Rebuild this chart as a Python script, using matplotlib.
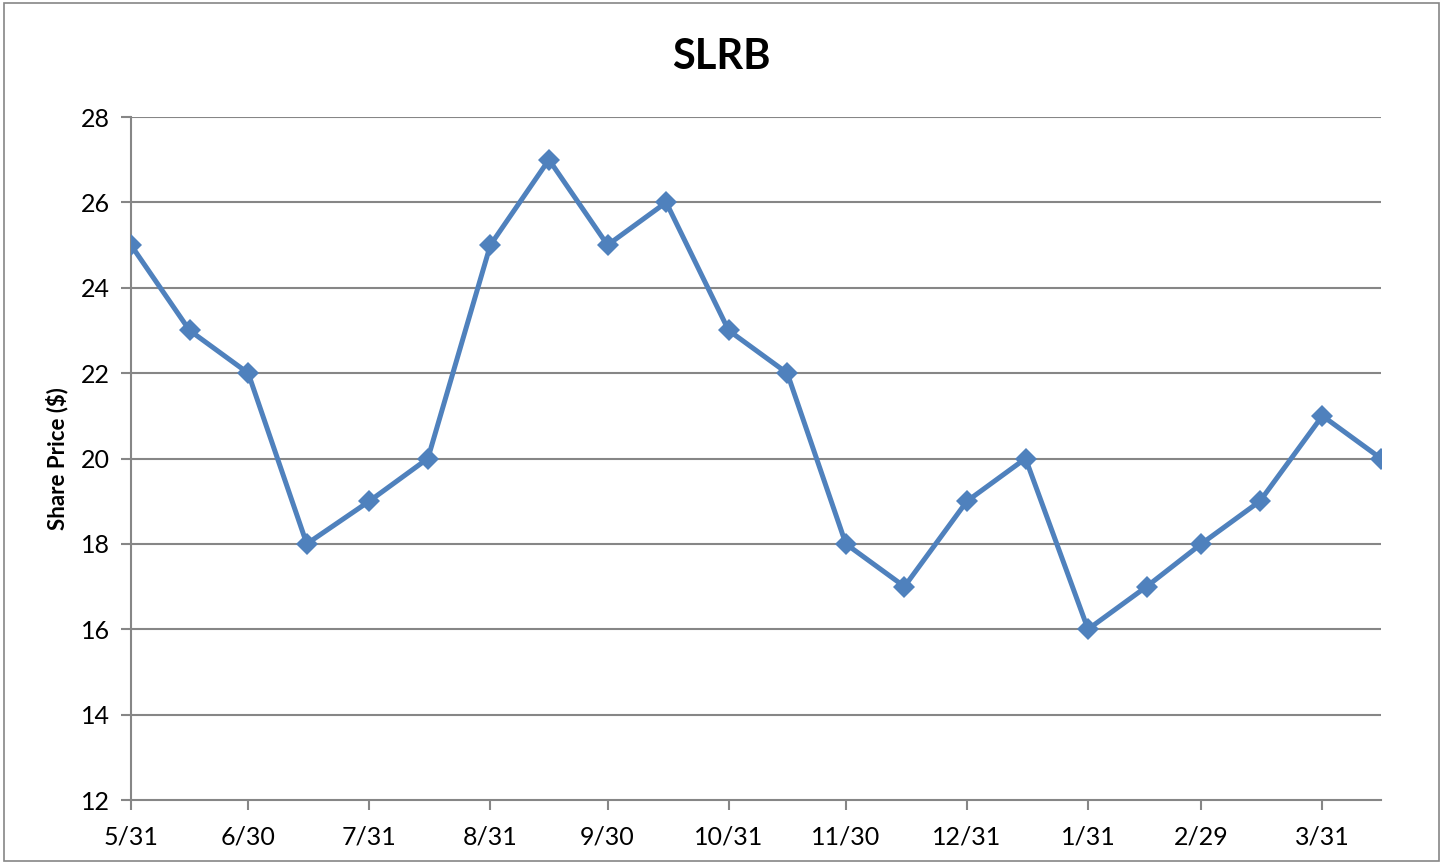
import datetime as dt
import matplotlib
matplotlib.use("Agg")
import matplotlib.pyplot as plt
import matplotlib.dates as mdates
from matplotlib.patches import Rectangle

plt.rcParams['font.family'] = ['Lato', 'DejaVu Sans']

# semi-monthly observations, 5/31/2011 .. 4/15/2012
dates = ['2011-05-31', '2011-06-15', '2011-06-30', '2011-07-15', '2011-07-31',
         '2011-08-15', '2011-08-31', '2011-09-15', '2011-09-30', '2011-10-15',
         '2011-10-31', '2011-11-15', '2011-11-30', '2011-12-15', '2011-12-31',
         '2012-01-15', '2012-01-31', '2012-02-15', '2012-02-29', '2012-03-15',
         '2012-03-31', '2012-04-15']
prices = [25, 23, 22, 18, 19, 20, 25, 27, 25, 26, 23, 22, 18, 17, 19, 20,
          16, 17, 18, 19, 21, 20]
tick_dates = ['2011-05-31', '2011-06-30', '2011-07-31', '2011-08-31', '2011-09-30',
              '2011-10-31', '2011-11-30', '2011-12-31', '2012-01-31', '2012-02-29',
              '2012-03-31']
yticks = [12, 14, 16, 18, 20, 22, 24, 26, 28]

x = [dt.datetime.strptime(d, '%Y-%m-%d') for d in dates]
xt = [dt.datetime.strptime(d, '%Y-%m-%d') for d in tick_dates]

fig = plt.figure(figsize=(14.43, 8.63), dpi=100)
ax = fig.add_axes([131 / 1443, 1 - 800 / 863, (1381 - 131) / 1443, (800 - 117) / 863])

grid_c = '#868686'
for v in yticks[1:]:
    ax.axhline(v, color=grid_c, lw=1.5, zorder=1)

ax.plot(x, prices, color='#4F81BD', lw=3.6, marker='D', markersize=11,
        markeredgewidth=0, zorder=3, solid_joinstyle='round')

ax.set_xlim(x[0], x[-1])
ax.set_ylim(12, 28)
ax.set_yticks(yticks)
ax.set_xticks(xt)
ax.xaxis.set_major_formatter(mdates.DateFormatter('%m/%d'))
ax.set_xticklabels([f"{d.month}/{d.day}" for d in xt])

for s in ['top', 'right']:
    ax.spines[s].set_visible(False)
for s in ['left', 'bottom']:
    ax.spines[s].set_color(grid_c)
    ax.spines[s].set_linewidth(1.5)

ax.tick_params(axis='both', colors=grid_c, labelcolor='black', labelsize=18,
               length=7, width=1.5, direction='out')
ax.tick_params(axis='x', pad=11)
ax.tick_params(axis='y', pad=8)

ax.set_ylabel('Share Price ($)', fontsize=16, fontweight='bold', labelpad=9)
fig.text(0.5, 1 - 57 / 863, 'SLRB', ha='center', va='center',
         fontsize=30, fontweight='bold')

fig.patches.append(Rectangle((0.003, 0.002), 0.994, 0.994, transform=fig.transFigure,
                             fill=False, edgecolor=grid_c, lw=1.2))

fig.savefig('out.png', dpi=100)
